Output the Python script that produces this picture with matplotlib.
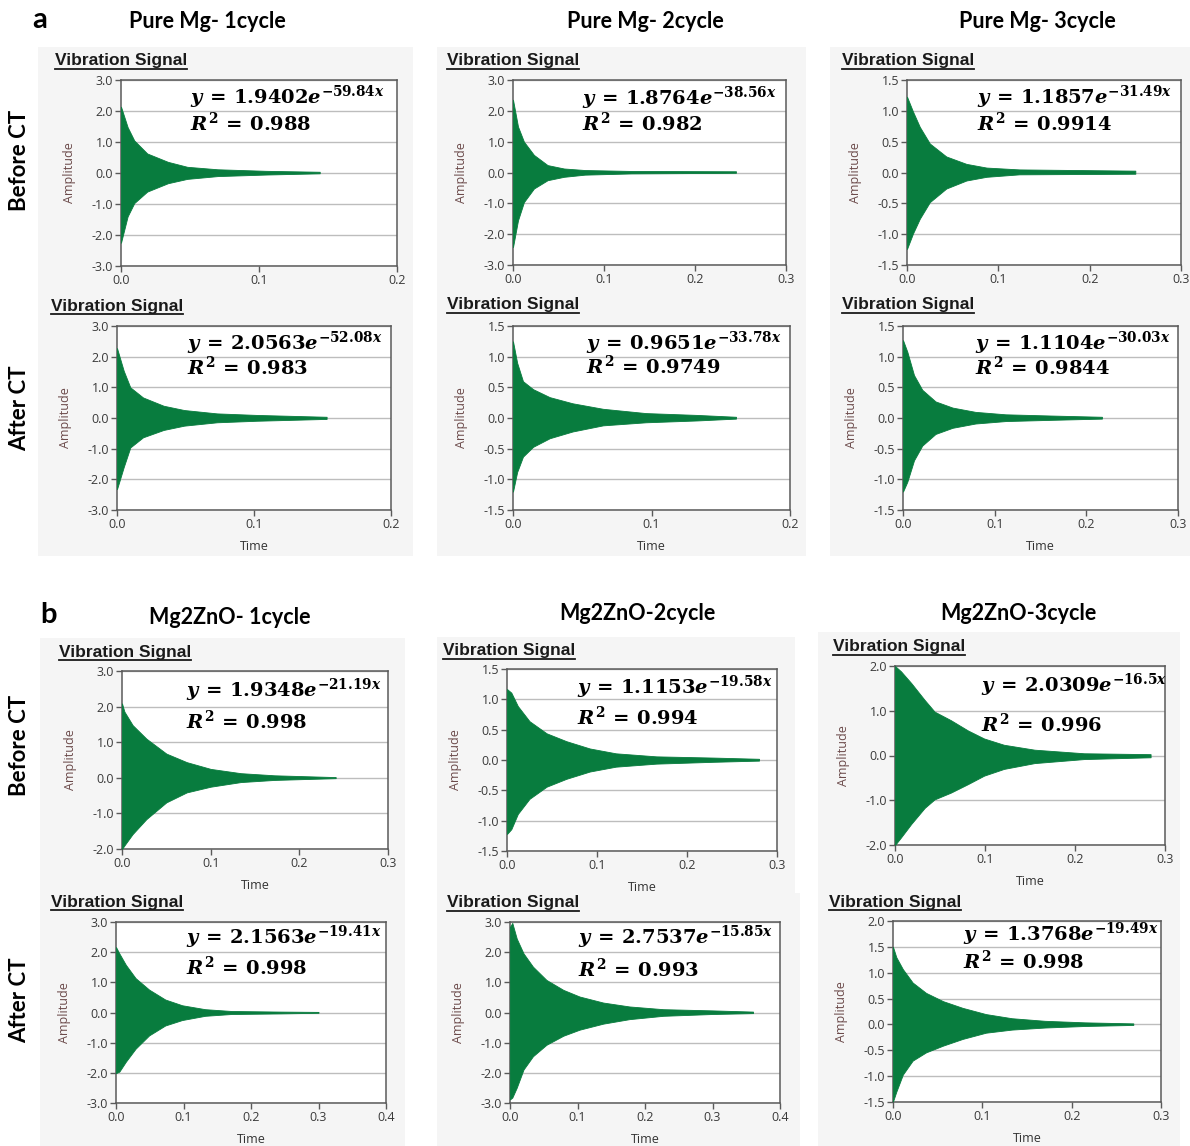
import matplotlib
matplotlib.use("Agg")
import matplotlib.pyplot as plt
from matplotlib.lines import Line2D
from matplotlib.patches import Rectangle
import numpy as np

plt.rcParams["axes.unicode_minus"] = False
plt.rcParams["mathtext.fontset"] = "custom"
plt.rcParams["mathtext.rm"] = "DejaVu Serif:bold"
plt.rcParams["mathtext.it"] = "DejaVu Serif:bold:italic"
plt.rcParams["mathtext.bf"] = "DejaVu Serif:bold"

W, H = 1190, 1146

# ---- values ----
titles_a = ["Pure Mg- 1cycle", "Pure Mg- 2cycle", "Pure Mg- 3cycle"]
titles_b = ["Mg2ZnO- 1cycle", "Mg2ZnO-2cycle", "Mg2ZnO-3cycle"]
row_labels = ["Before CT", "After CT", "Before CT", "After CT"]

fit_coef = ["1.9402", "1.8764", "1.1857", "2.0563", "0.9651", "1.1104",
            "1.9348", "1.1153", "2.0309", "2.1563", "2.7537", "1.3768"]
fit_rate = ["59.84", "38.56", "31.49", "52.08", "33.78", "30.03",
            "21.19", "19.58", "16.5", "19.41", "15.85", "19.49"]
r_squared = ["0.988", "0.982", "0.9914", "0.983", "0.9749", "0.9844",
             "0.998", "0.994", "0.996", "0.998", "0.993", "0.998"]
x_max = [0.2, 0.3, 0.3, 0.2, 0.2, 0.3, 0.3, 0.3, 0.3, 0.4, 0.4, 0.3]
y_min = [-3, -3, -1.5, -3, -1.5, -1.5, -2, -1.5, -2, -3, -3, -1.5]
y_max = [3, 3, 1.5, 3, 1.5, 1.5, 3, 1.5, 2, 3, 3, 2]

# signal envelopes (time, upper, lower)
t_a1 = [0, 0.0048, 0.0096, 0.019, 0.034, 0.048, 0.07, 0.105, 0.144]
up_a1 = [2.14, 1.48, 1.05, 0.63, 0.36, 0.2, 0.12, 0.07, 0.04]
lo_a1 = [-2.25, -1.4, -0.97, -0.6, -0.33, -0.19, -0.1, -0.05, -0.01]

t_a2 = [0, 0.0055, 0.012, 0.023, 0.038, 0.056, 0.079, 0.13, 0.245]
up_a2 = [2.36, 1.49, 1.0, 0.57, 0.24, 0.13, 0.08, 0.05, 0.04]
lo_a2 = [-2.42, -1.55, -0.96, -0.52, -0.25, -0.14, -0.07, -0.03, -0.01]

t_a3 = [0, 0.0065, 0.014, 0.025, 0.043, 0.065, 0.087, 0.123, 0.25]
up_a3 = [1.23, 0.99, 0.74, 0.47, 0.26, 0.14, 0.08, 0.05, 0.03]
lo_a3 = [-1.24, -0.99, -0.75, -0.48, -0.26, -0.13, -0.07, -0.03, -0.02]

t_a4 = [0, 0.0049, 0.0097, 0.019, 0.034, 0.049, 0.073, 0.102, 0.153]
up_a4 = [2.28, 1.54, 1.0, 0.67, 0.4, 0.26, 0.15, 0.1, 0.04]
lo_a4 = [-2.32, -1.6, -0.96, -0.63, -0.39, -0.25, -0.14, -0.09, -0.03]

t_a5 = [0, 0.003, 0.0072, 0.0145, 0.0265, 0.043, 0.065, 0.096, 0.133, 0.161]
up_a5 = [1.25, 0.9, 0.6, 0.47, 0.34, 0.24, 0.15, 0.08, 0.05, 0.02]
lo_a5 = [-1.2, -0.88, -0.63, -0.47, -0.33, -0.22, -0.12, -0.07, -0.04, -0.01]

t_a6 = [0, 0.0047, 0.012, 0.021, 0.0355, 0.054, 0.079, 0.112, 0.162, 0.217]
up_a6 = [1.27, 1.08, 0.7, 0.46, 0.27, 0.17, 0.1, 0.06, 0.04, 0.02]
lo_a6 = [-1.2, -1.04, -0.69, -0.45, -0.26, -0.16, -0.09, -0.05, -0.03, -0.01]

t_b1 = [0, 0.0027, 0.012, 0.0275, 0.05, 0.073, 0.1, 0.134, 0.172, 0.241]
up_b1 = [2.09, 1.86, 1.48, 1.1, 0.68, 0.44, 0.25, 0.13, 0.07, 0.02]
lo_b1 = [-2.0, -1.9, -1.58, -1.16, -0.69, -0.41, -0.25, -0.12, -0.06, -0.01]

t_b2 = [0, 0.0048, 0.012, 0.025, 0.044, 0.066, 0.092, 0.121, 0.166, 0.229, 0.28]
up_b2 = [1.17, 1.11, 0.89, 0.64, 0.44, 0.31, 0.19, 0.11, 0.06, 0.04, 0.02]
lo_b2 = [-1.22, -1.14, -0.89, -0.64, -0.44, -0.31, -0.19, -0.11, -0.06, -0.03, -0.01]

t_b3 = [0, 0.0067, 0.018, 0.033, 0.044, 0.062, 0.081, 0.099, 0.121, 0.155, 0.21, 0.284]
up_b3 = [2.0, 1.88, 1.62, 1.24, 0.98, 0.79, 0.56, 0.38, 0.24, 0.13, 0.05, 0.03]
lo_b3 = [-2.0, -1.83, -1.53, -1.17, -0.98, -0.83, -0.64, -0.45, -0.3, -0.17, -0.08, -0.04]

t_b4 = [0, 0.0049, 0.0146, 0.029, 0.049, 0.073, 0.098, 0.132, 0.171, 0.244, 0.3]
up_b4 = [2.17, 1.96, 1.58, 1.14, 0.76, 0.43, 0.24, 0.11, 0.05, 0.03, 0.02]
lo_b4 = [-2.01, -1.96, -1.63, -1.2, -0.76, -0.43, -0.25, -0.11, -0.05, -0.03, -0.01]

t_b5 = [0, 0.0034, 0.01, 0.02, 0.034, 0.054, 0.079, 0.103, 0.138, 0.177, 0.227, 0.3, 0.36]
up_b5 = [2.84, 2.97, 2.45, 1.96, 1.52, 1.08, 0.75, 0.53, 0.33, 0.2, 0.11, 0.07, 0.03]
lo_b5 = [-2.88, -2.82, -2.49, -1.89, -1.45, -1.07, -0.77, -0.57, -0.37, -0.22, -0.11, -0.05, -0.02]

t_b6 = [0, 0.0037, 0.011, 0.022, 0.037, 0.056, 0.078, 0.104, 0.133, 0.17, 0.215, 0.269]
up_b6 = [1.5, 1.3, 1.07, 0.81, 0.61, 0.45, 0.32, 0.2, 0.12, 0.07, 0.04, 0.02]
lo_b6 = [-1.49, -1.3, -0.97, -0.7, -0.54, -0.41, -0.28, -0.16, -0.1, -0.06, -0.03, -0.01]

times = [t_a1, t_a2, t_a3, t_a4, t_a5, t_a6, t_b1, t_b2, t_b3, t_b4, t_b5, t_b6]
uppers = [up_a1, up_a2, up_a3, up_a4, up_a5, up_a6, up_b1, up_b2, up_b3, up_b4, up_b5, up_b6]
lowers = [lo_a1, lo_a2, lo_a3, lo_a4, lo_a5, lo_a6, lo_b1, lo_b2, lo_b3, lo_b4, lo_b5, lo_b6]

# ---- layout (pixels) ----
axes_px = [(121, 80, 397, 266), (513, 80, 786, 265), (907, 80, 1181, 265),
           (117, 326, 391, 510), (513, 326, 790, 510), (903, 326, 1178, 510),
           (122, 671, 388, 849), (507, 669, 777, 851), (895, 666, 1165, 845),
           (116, 922, 386, 1103), (510, 922, 780, 1103), (893, 921, 1161, 1102)]
box_px = [(38, 47, 413, 292), (437, 47, 806, 292), (830, 47, 1190, 292),
          (38, 292, 413, 556), (437, 292, 806, 556), (830, 292, 1190, 556),
          (40, 638, 405, 895), (437, 637, 795, 895), (818, 632, 1180, 891),
          (40, 893, 405, 1146), (437, 893, 800, 1146), (818, 891, 1180, 1146)]
vib_px = [(55, 61), (447, 61), (842, 61), (51, 306), (447, 305), (842, 305),
          (59, 652), (443, 651), (833, 647), (51, 902), (447, 903), (829, 902)]
eq_px = [(190, 97, 123), (582, 98, 123), (977, 97, 123),
         (187, 343, 367), (586, 343, 366), (975, 343, 367),
         (186, 690, 721), (577, 687, 717), (981, 685, 724),
         (186, 937, 967), (578, 937, 969), (963, 934, 961)]
show_time = [False] * 3 + [True] * 9

GREEN = "#087c3e"

fig = plt.figure(figsize=(W / 100, H / 100), dpi=100)
fig.patch.set_facecolor("white")


def fx(x):
    return x / W


def fy(y):
    return 1 - y / H


for b in box_px:
    fig.patches.append(Rectangle((fx(b[0]), fy(b[3])), fx(b[2] - b[0]), (b[3] - b[1]) / H,
                                 transform=fig.transFigure, facecolor="#f5f5f5",
                                 edgecolor="none", zorder=-10))

vib_texts = []
for i in range(12):
    x0, y0, x1, y1 = axes_px[i]
    aw, ah = x1 - x0, y1 - y0
    ax = fig.add_axes([fx(x0), fy(y1), aw / W, ah / H])
    ax.set_zorder(2)
    ax.set_facecolor("white")
    ax.fill_between(times[i], lowers[i], uppers[i], color=GREEN, lw=0.6, edgecolor=GREEN, zorder=3)
    ax.set_xlim(0, x_max[i])
    ax.set_ylim(y_min[i], y_max[i])
    ax.set_xticks(np.round(np.arange(0, x_max[i] + 1e-9, 0.1), 1))
    step = 1.0 if y_max[i] - y_min[i] >= 4 else 0.5
    ax.set_yticks(np.arange(y_min[i], y_max[i] + 1e-9, step))
    ax.xaxis.set_major_formatter(matplotlib.ticker.FormatStrFormatter("%.1f"))
    ax.yaxis.set_major_formatter(matplotlib.ticker.FormatStrFormatter("%.1f"))
    ax.grid(axis="y", color="#bdbdbd", lw=1.0)
    ax.set_axisbelow(True)
    for s in ax.spines.values():
        s.set_color("#5a5a5a")
        s.set_linewidth(1.1)
    ax.tick_params(direction="out", length=4, width=1, color="#5a5a5a",
                   labelsize=9, labelcolor="#3a3a3a", pad=1.5)
    for lab in ax.get_xticklabels() + ax.get_yticklabels():
        lab.set_fontfamily("Open Sans")
    ax.set_ylabel("Amplitude", fontsize=9, color="#6b4a4a", fontfamily="Open Sans")
    ax.yaxis.set_label_coords(-45 / aw, 0.5)
    if show_time[i]:
        ax.set_xlabel("Time", fontsize=9, color="#333333", fontfamily="Open Sans")
        ax.xaxis.set_label_coords(0.5, -30 / ah)

    ex, ey, ry = eq_px[i]
    ax.text((ex - x0) / aw, 1 - (ey - y0) / ah,
            r"$y\,=\," + fit_coef[i] + r"e^{-" + fit_rate[i] + r"x}$",
            transform=ax.transAxes, fontsize=14, va="center", ha="left", color="black", zorder=5)
    ax.text((ex - x0) / aw, 1 - (ry - y0) / ah,
            r"$R^2\,=\," + r_squared[i] + r"$",
            transform=ax.transAxes, fontsize=14, va="center", ha="left", color="black", zorder=5)

    vx, vy = vib_px[i]
    vib_texts.append(fig.text(fx(vx), fy(vy), "Vibration Signal", fontsize=12.5,
                              fontweight="bold", fontfamily="Liberation Sans",
                              color="#1a1a1a", va="center", ha="left"))

# column titles
for cx, cy, t in zip([207, 645, 1037], [22, 22, 22], titles_a):
    fig.text(fx(cx), fy(cy), t, fontsize=15.5, fontweight="bold", fontfamily="Lato",
             ha="center", va="center")
for cx, cy, t in zip([230, 637, 1018], [618, 614, 614], titles_b):
    fig.text(fx(cx), fy(cy), t, fontsize=15.5, fontweight="bold", fontfamily="Lato",
             ha="center", va="center")

fig.text(fx(40), fy(20), "a", fontsize=21, fontweight="bold", fontfamily="Lato",
         ha="center", va="center")
fig.text(fx(48), fy(615), "b", fontsize=21, fontweight="bold", fontfamily="Lato",
         ha="center", va="center")

for ry, lab in zip([160, 408, 745, 1000], row_labels):
    fig.text(fx(20), fy(ry), lab, fontsize=16, fontweight="bold", fontfamily="Lato",
             rotation=90, ha="center", va="center")

# underline the "Vibration Signal" headings
renderer = fig.canvas.get_renderer()
for t in vib_texts:
    bb = t.get_window_extent(renderer=renderer)
    fig.add_artist(Line2D([bb.x0 / W, bb.x1 / W], [(bb.y0 - 0.5) / H, (bb.y0 - 0.5) / H],
                          transform=fig.transFigure, color="#1a1a1a", lw=1.3))

fig.savefig("out.png", dpi=100)
